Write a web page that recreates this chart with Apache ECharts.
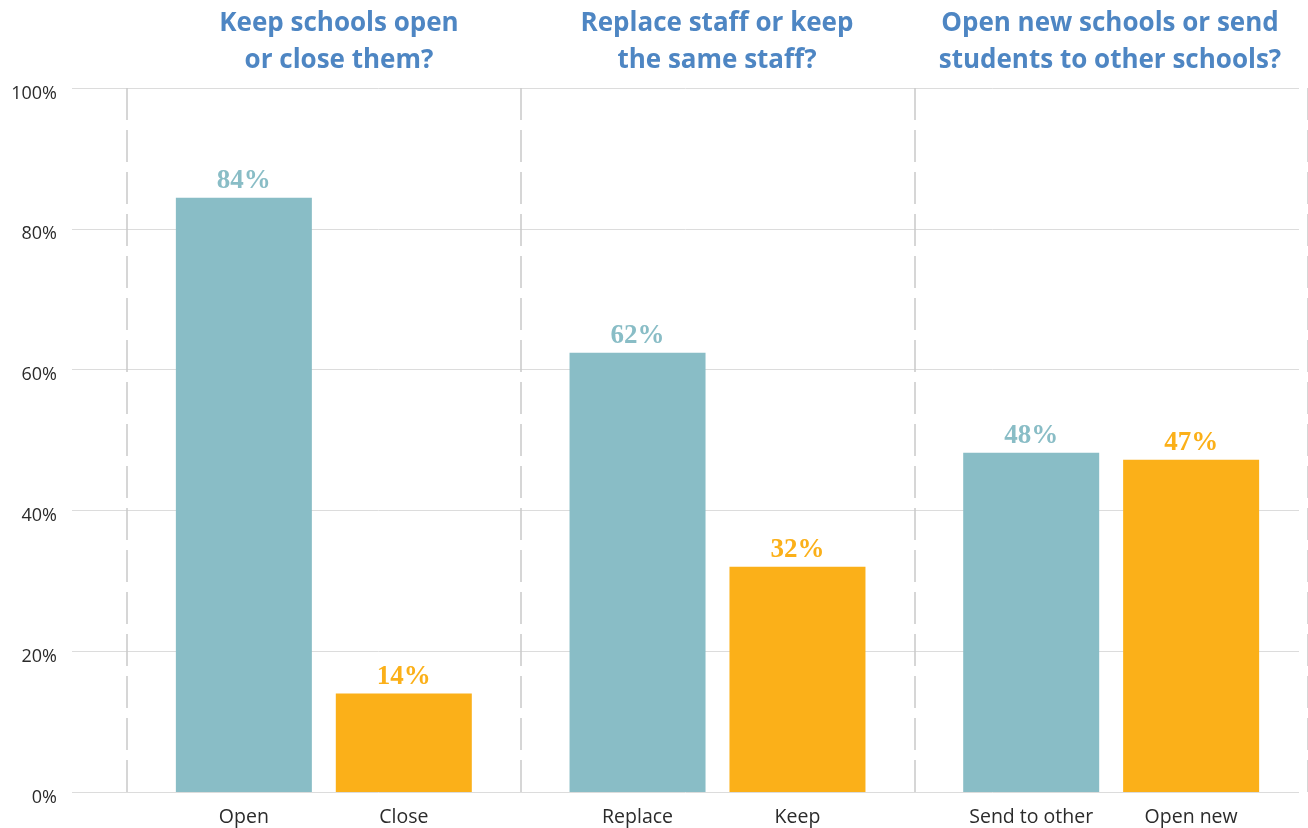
<!DOCTYPE html>
<html><head><meta charset="utf-8">
<script src="https://cdn.jsdelivr.net/npm/echarts@6/dist/echarts.min.js"></script>
<style>html,body{margin:0;padding:0;background:#fff}#c{width:1308px;height:828px}</style>
</head><body><div id="c"></div>
<script>
const groups = ['Keep schools open\nor close them?', 'Replace staff or keep\nthe same staff?', 'Open new schools or send\nstudents to other schools?'];
const tealNames = ['Open', 'Replace', 'Send to other'];
const orangeNames = ['Close', 'Keep', 'Open new'];
const tealValues = [84.4, 62.4, 48.2];
const orangeValues = [14.0, 32.0, 47.2];
const yTicks = [0, 20, 40, 60, 80, 100];

const TEAL = '#89BDC6', ORANGE = '#FBB019', TITLE = '#4E86C3';
const chart = echarts.init(document.getElementById('c'), null, {renderer: 'canvas'});
const gTop = 88, gBottom = 36;
const titleX = [339, 717, 1110];

function valueLabel(color) {
  return {show: true, position: 'top', distance: 3, color: color,
    fontFamily: 'Liberation Serif', fontWeight: 'bold', fontSize: 27,
    formatter: p => Math.round(p.value) + '%'};
}
function nameLabel(names) {
  return {show: true, position: 'bottom', distance: 15, color: '#2b2b2b',
    fontFamily: 'Open Sans', fontSize: 19.5, formatter: p => names[p.dataIndex]};
}
const barW = 136, barGap = '17.6%';

chart.setOption({
  animation: false,
  grid: [
    {left: 72, right: 9, top: gTop, bottom: gBottom},
    {left: 127, right: 0, top: gTop, bottom: gBottom}
  ],
  xAxis: [
    {gridIndex: 0, type: 'category', data: groups, show: false},
    {gridIndex: 1, type: 'category', data: groups,
      axisLine: {show: false}, axisTick: {show: false}, axisLabel: {show: false},
      splitLine: {show: true, lineStyle: {color: '#c9c9c9', width: 1.5, type: [32, 10]}}},
    {gridIndex: 1, type: 'category', data: groups, show: false}
  ],
  yAxis: [
    {gridIndex: 0, type: 'value', min: 0, max: 100, interval: 20,
      axisLine: {show: false}, axisTick: {show: false},
      axisLabel: {margin: 15, color: '#2b2b2b', fontFamily: 'Open Sans', fontSize: 18,
        verticalAlign: 'top', lineHeight: 11, formatter: v => v + '%'},
      splitLine: {lineStyle: {color: '#dcdcdc', width: 1}}},
    {gridIndex: 1, type: 'value', min: 0, max: 100, interval: 20, show: false, splitLine: {show: false}}
  ],
  series: [
    {type: 'bar', xAxisIndex: 1, yAxisIndex: 1, data: tealValues, barWidth: barW, barGap: barGap,
      itemStyle: {color: TEAL}, label: valueLabel(TEAL), z: 3},
    {type: 'bar', xAxisIndex: 1, yAxisIndex: 1, data: orangeValues, barWidth: barW, barGap: barGap,
      itemStyle: {color: ORANGE}, label: valueLabel(ORANGE), z: 3},
    {type: 'bar', xAxisIndex: 2, yAxisIndex: 1, data: tealValues, barWidth: barW, barGap: barGap,
      itemStyle: {color: 'rgba(0,0,0,0)'}, label: nameLabel(tealNames), silent: true, z: 1},
    {type: 'bar', xAxisIndex: 2, yAxisIndex: 1, data: orangeValues, barWidth: barW, barGap: barGap,
      itemStyle: {color: 'rgba(0,0,0,0)'}, label: nameLabel(orangeNames), silent: true, z: 1}
  ],
  graphic: groups.map((g, i) => ({
    type: 'text', x: titleX[i], y: 5,
    style: {text: g, fill: TITLE, font: 'bold 26px "Open Sans"', textAlign: 'center', lineHeight: 37}
  }))
});
</script>
</body></html>
